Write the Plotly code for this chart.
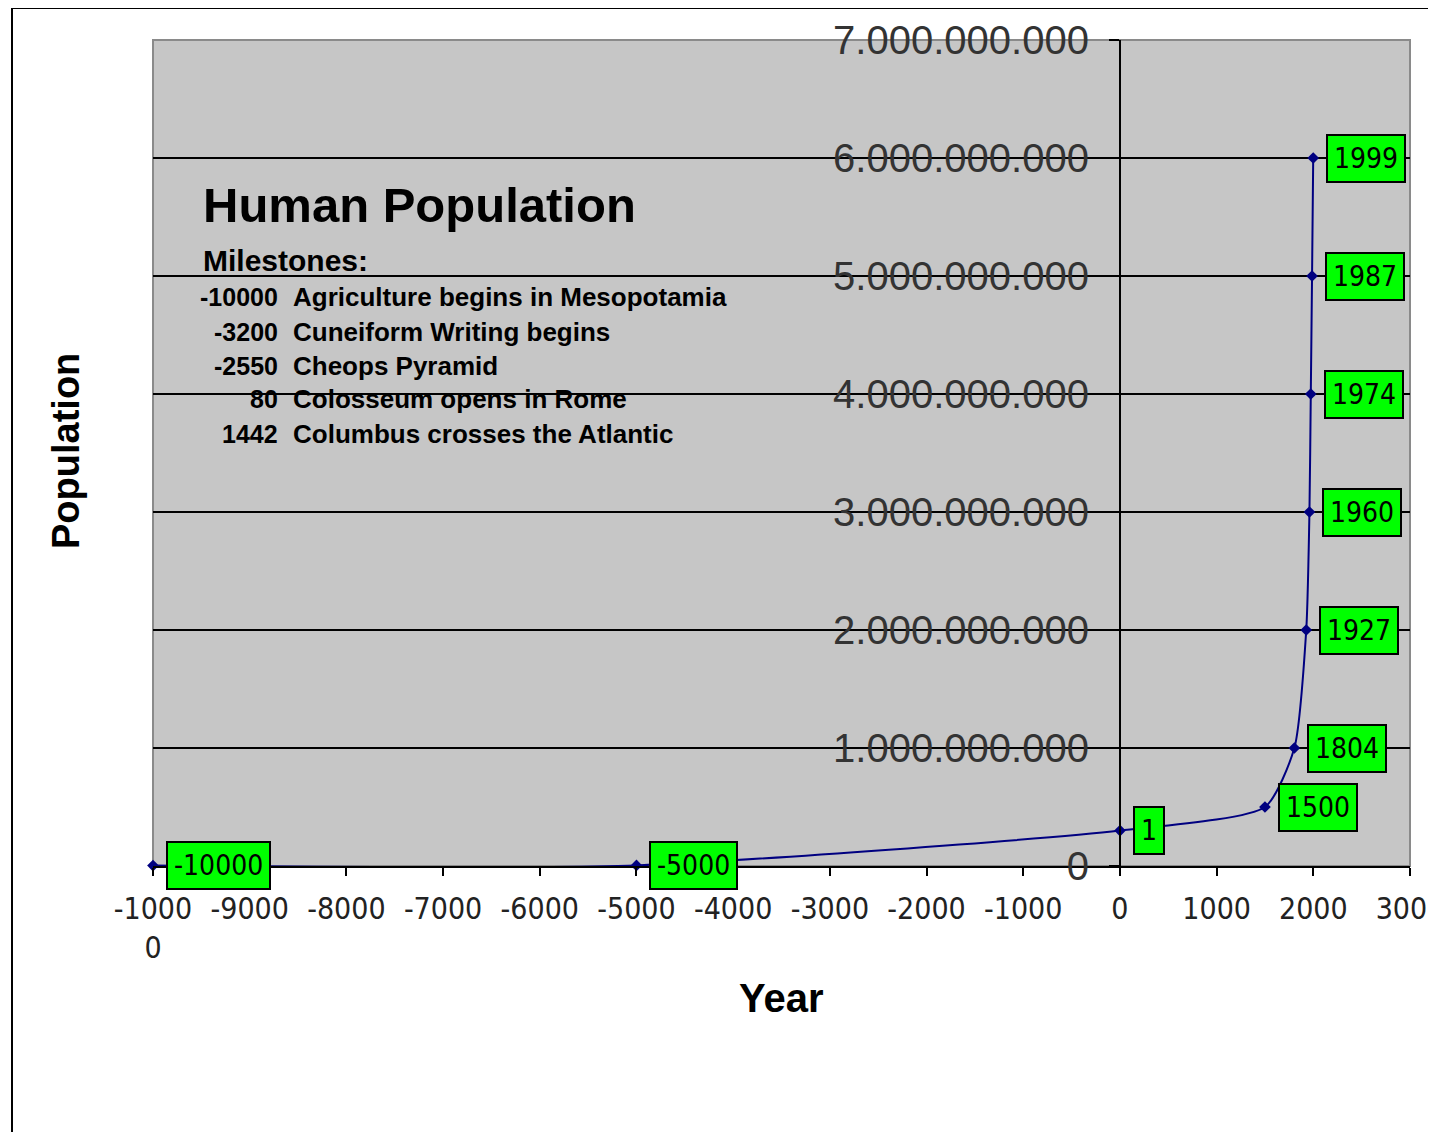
import plotly.graph_objects as go

# ---------------- data ----------------
years = [-10000, -5000, 1, 1500, 1804, 1927, 1960, 1974, 1987, 1999]
population = [4_000_000, 5_000_000, 300_000_000, 500_000_000, 1_000_000_000,
              2_000_000_000, 3_000_000_000, 4_000_000_000, 5_000_000_000, 6_000_000_000]
point_labels = ["-10000", "-5000", "1", "1500", "1804", "1927", "1960", "1974", "1987", "1999"]

x_tick_vals = [-10000, -9000, -8000, -7000, -6000, -5000, -4000, -3000, -2000, -1000, 0, 1000, 2000, 3000]
x_tick_text = ["-1000<br>0", "-9000", "-8000", "-7000", "-6000", "-5000", "-4000",
               "-3000", "-2000", "-1000", "0", "1000", "2000", "3000"]
y_tick_vals = [0, 1e9, 2e9, 3e9, 4e9, 5e9, 6e9, 7e9]
y_tick_text = ["0", "1.000.000.000", "2.000.000.000", "3.000.000.000", "4.000.000.000",
               "5.000.000.000", "6.000.000.000", "7.000.000.000"]

chart_title = "Human Population"
milestones_heading = "Milestones:"
milestone_years = ["-10000", "-3200", "-2550", "80", "1442"]
milestone_events = ["Agriculture begins in Mesopotamia", "Cuneiform Writing begins",
                    "Cheops Pyramid", "Colosseum opens in Rome", "Columbus crosses the Atlantic"]
x_title = "Year"
y_title = "Population"

# ---------------- layout constants ----------------
PAGE_OFFSET = 8                      # default body margin of the html page
W, H = 1436 - PAGE_OFFSET, 1132 - PAGE_OFFSET
PLOT_L, PLOT_R, PLOT_T, PLOT_B = 153, 1410, 40, 866   # plot area in screen pixels
L, T = PLOT_L - PAGE_OFFSET, PLOT_T - PAGE_OFFSET
PW, PH = PLOT_R - PLOT_L, PLOT_B - PLOT_T
R, B = W - L - PW, H - T - PH
X_RANGE = [-10000, 3000]
Y_RANGE = [0, 7e9]

NARROW = "DejaVu Sans Condensed, Liberation Sans Narrow, sans-serif"
SANS = "Liberation Sans, Arial, sans-serif"


def px_x(px):
    return (px - PLOT_L) / PW


def px_y(py):
    return (PLOT_B - py) / PH


fig = go.Figure()
fig.add_trace(go.Scatter(
    x=years, y=population, mode="lines+markers",
    line=dict(color="#000080", width=2, shape="spline", smoothing=0.6),
    marker=dict(symbol="diamond", size=9, color="#000080"),
    cliponaxis=False, hoverinfo="x+y", showlegend=False,
))

annotations = []
for xv, yv, txt in zip(years, population, point_labels):
    annotations.append(dict(
        x=xv, y=yv, xref="x", yref="y", text=txt, showarrow=False,
        xanchor="left", yanchor="middle", xshift=13,
        font=dict(family=NARROW, size=28, color="black"),
        bgcolor="#00FF00", bordercolor="black", borderwidth=2, borderpad=6,
    ))

annotations.append(dict(
    x=px_x(201), y=px_y(205), xref="paper", yref="paper", text=chart_title,
    showarrow=False, xanchor="left", yanchor="middle",
    font=dict(family=SANS, size=49, color="black", weight="bold"),
))
annotations.append(dict(
    x=px_x(201), y=px_y(260), xref="paper", yref="paper", text=milestones_heading,
    showarrow=False, xanchor="left", yanchor="middle",
    font=dict(family=SANS, size=30, color="black", weight="bold"),
))
row_y = [297, 332, 366, 399, 434]
for yy, yr, ev in zip(row_y, milestone_years, milestone_events):
    annotations.append(dict(
        x=px_x(280), y=px_y(yy), xref="paper", yref="paper", text=yr,
        showarrow=False, xanchor="right", yanchor="middle",
        font=dict(family=SANS, size=25, color="black", weight="bold"),
    ))
    annotations.append(dict(
        x=px_x(291), y=px_y(yy), xref="paper", yref="paper", text=ev,
        showarrow=False, xanchor="left", yanchor="middle",
        font=dict(family=SANS, size=26, color="black", weight="bold"),
    ))
# axis titles
annotations.append(dict(
    x=px_x(66), y=px_y(451), xref="paper", yref="paper", text=y_title, textangle=-90,
    showarrow=False, xanchor="center", yanchor="middle",
    font=dict(family=SANS, size=38, color="black", weight="bold"),
))
annotations.append(dict(
    x=px_x(781), y=px_y(998), xref="paper", yref="paper", text=x_title,
    showarrow=False, xanchor="center", yanchor="middle",
    font=dict(family=SANS, size=40, color="black", weight="bold"),
))

shapes = [
    # outer chart frame
    dict(type="rect", xref="paper", yref="paper", x0=px_x(12), x1=px_x(1500),
         y0=px_y(1200), y1=px_y(8), line=dict(color="black", width=2),
         fillcolor="rgba(0,0,0,0)", layer="below"),
    # plot area border
    dict(type="rect", xref="paper", yref="paper", x0=0, x1=1, y0=0, y1=1,
         line=dict(color="#8a8a8a", width=2), fillcolor="rgba(0,0,0,0)", layer="below"),
]

fig.update_layout(
    width=W, height=H,
    margin=dict(l=L, r=R, t=T, b=B, autoexpand=False),
    paper_bgcolor="white", plot_bgcolor="#C6C6C6",
    font=dict(family=SANS, color="black"),
    showlegend=False,
    annotations=annotations, shapes=shapes,
    xaxis=dict(
        range=X_RANGE, tickvals=x_tick_vals, ticktext=x_tick_text,
        showgrid=False, zeroline=False, showline=True, linecolor="black", linewidth=2,
        ticks="outside", ticklen=8, tickwidth=2, tickcolor="black",
        tickfont=dict(family=NARROW, size=30, color="#222222"),
        ticklabelstandoff=7, ticklabeloverflow="allow",
        automargin=False,
    ),
    yaxis=dict(
        range=Y_RANGE, anchor="free", side="left",
        position=(0 - X_RANGE[0]) / (X_RANGE[1] - X_RANGE[0]),
        tickvals=y_tick_vals, ticktext=y_tick_text,
        showgrid=True, gridcolor="black", gridwidth=2,
        zeroline=False, showline=True, linecolor="black", linewidth=2,
        ticks="outside", ticklen=10, tickwidth=2, tickcolor="black",
        tickfont=dict(family=SANS, size=40, color="#333333"),
        ticklabelstandoff=12, ticklabeloverflow="allow",
        automargin=False,
    ),
)

fig.write_html("out.html")
